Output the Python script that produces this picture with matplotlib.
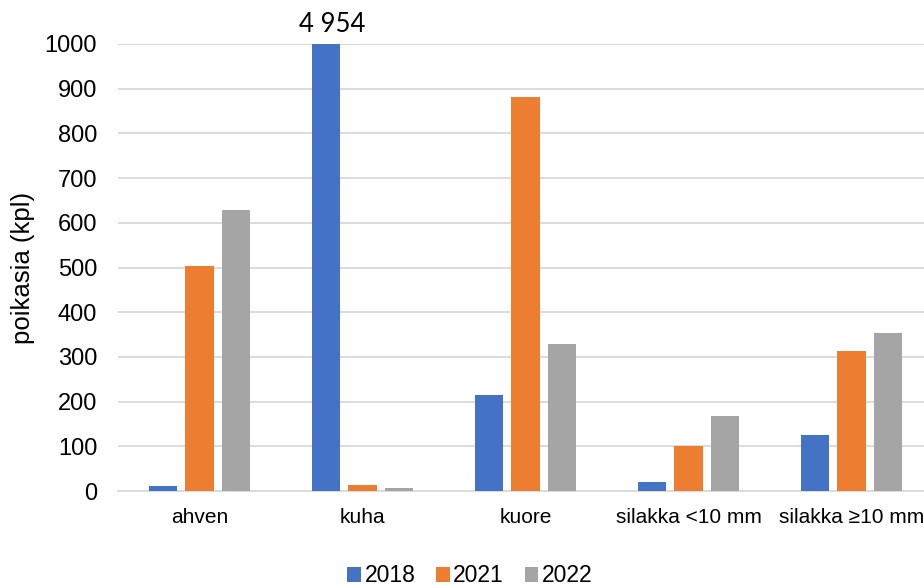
import matplotlib.pyplot as plt
import numpy as np

# Poikasmäärät lajeittain ja vuosittain
lajit = ['ahven', 'kuha', 'kuore', 'silakka <10 mm', 'silakka ≥10 mm']
vuodet = ['2018', '2021', '2022']
v2018 = [11, 4954, 215, 20, 125]
v2021 = [503, 13, 881, 101, 313]
v2022 = [629, 7, 329, 168, 353]
varit = ['#4472c4', '#ed7d31', '#a5a5a5']

plt.rcParams['font.family'] = ['Liberation Sans', 'DejaVu Sans']

fig = plt.figure(figsize=(9.24, 5.88), dpi=100)
# plot area runs past the right edge of the figure
ax = fig.add_axes([118 / 924, 1 - 491 / 588, 815 / 924, 447 / 588])

x = np.arange(len(lajit))
leveys = 0.172
vali = 0.221
for i, (arvot, vuosi) in enumerate(zip([v2018, v2021, v2022], vuodet)):
    ax.bar(x + (i - 1) * vali, arvot, width=leveys, color=varit[i], label=vuosi, zorder=3)

ymax = 1000
ax.set_ylim(0, ymax)
ax.set_xlim(-0.5, len(lajit) - 0.5)
ax.set_yticks(np.arange(0, 1001, 100))
ax.tick_params(axis='y', labelsize=17, length=0, pad=15)
ax.tick_params(axis='x', labelsize=15, length=0, pad=12)
ax.set_xticks(x)
ax.set_xticklabels(lajit)
ax.grid(axis='y', color='#d9d9d9', linewidth=1.3, zorder=0)
for s in ['top', 'right', 'left']:
    ax.spines[s].set_visible(False)
ax.spines['bottom'].set_color('#d9d9d9')
ax.spines['bottom'].set_linewidth(1.3)
ax.set_ylabel('poikasia (kpl)', fontsize=18.5, labelpad=7)

# arvot jotka ylittävät asteikon kirjoitetaan palkin yläpuolelle
for j, v in enumerate(v2018):
    if v > ymax:
        ax.annotate(f'{v:,}'.replace(',', ' '), (x[j] - vali, ymax), xytext=(4, 5),
                    textcoords='offset points', ha='center', va='bottom',
                    fontsize=18.5, family=['Lato', 'DejaVu Sans'], annotation_clip=False)

fig.legend(loc='lower center', bbox_to_anchor=(470 / 924, -0.034), ncol=3, frameon=False,
           fontsize=16.5, handlelength=0.6, handleheight=0.6, handletextpad=0.15,
           columnspacing=0.9)

fig.savefig('out.png', dpi=100)
